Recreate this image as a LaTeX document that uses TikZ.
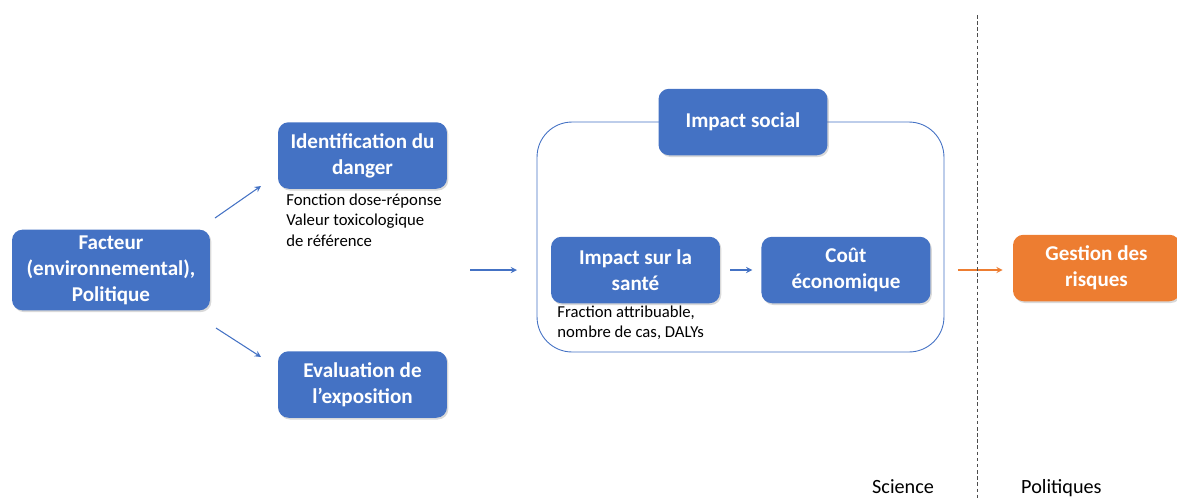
\documentclass[tikz,border=0pt]{standalone}
\usepackage{fontspec}
\setmainfont{Carlito}
\usetikzlibrary{arrows, shapes, shadows}
\definecolor{boxblue}{HTML}{4472C4}
\definecolor{boxorange}{HTML}{ED7D31}
\tikzstyle{arrow} = [->, >=stealth, boxblue, line width=0.6pt]
\tikzstyle{block} = [rectangle, rounded corners=6pt, fill=boxblue, text=white, font=\fontsize{12}{14.8}\selectfont\bfseries, align=center, minimum width=3.38cm, minimum height=1.33cm, drop shadow={shadow xshift=0.8pt, shadow yshift=-1pt, opacity=0.3}]
\tikzstyle{note} = [font=\fontsize{9.5}{11.4}\selectfont, align=left, inner sep=0]
\tikzstyle{inner} = [inner sep=0, minimum size=0]

\begin{document}
\begin{tikzpicture}[x=0.02cm, y=-0.02cm, node distance=4.21cm]
        \useasboundingbox (0,0) rectangle (1177,498);
        % cadre impact social
        \node [draw=boxblue, line width=0.5pt, rounded corners=0.7cm, minimum width=8.14cm, minimum height=4.6cm] (cadre) at (740.5,237) {};
        \node [block, minimum width=3.96cm, minimum height=1.52cm] (facteur) at (111,270) {Facteur\\(environnemental),\\Politique};
        \node [block] (danger) at (362.5,155.5) {Identification du\\danger};
        \node [note, anchor=north west] (dangerNote) at (286,194) {Fonction dose-réponse\\Valeur toxicologique\\de référence};
        \node [block] (exposition) at (362.5,384.5) {Evaluation de\\l’exposition};
        \node [block] (social) at (743,122) {Impact social};
        \node [block] (sante) at (635.5,270) {Impact sur la\\santé};
        \node [note, anchor=north west] (santeNote) at (557,306) {Fraction attribuable,\\nombre de cas, DALYs};
        \node [block, right of=sante] (cout) {Coût\\économique};
        \node [block, fill=boxorange, minimum width=3.34cm] (gestion) at (1096.5,268) {Gestion des\\risques};
        \node [anchor=base west, font=\fontsize{11.5}{13}\selectfont] (science) at (866,493) {Science};
        \node [anchor=base west, font=\fontsize{11.5}{13}\selectfont] (politiques) at (1015,493) {Politiques};

        \coordinate (iFacteurUp) at (215,218);
        \coordinate (iDanger) at (261,186);
        \coordinate (iFacteurDown) at (216,328);
        \coordinate (iExposition) at (261,357);
        \coordinate (iGauche) at (470,270);
        \coordinate (iCadre) at (517,270);
        \coordinate (sepTop) at (977,15);
        \coordinate (sepBottom) at (977,498);

        \path [arrow] (iFacteurUp) edge (iDanger);
        \path [arrow] (iFacteurDown) edge (iExposition);
        \path [arrow] (iGauche) edge (iCadre);
        \path [arrow, shorten <=5.5pt, shorten >=5pt] (sante) edge (cout);
        \draw [arrow, boxorange] ([xshift=15.4pt]cout.east) -- ([xshift=-5.7pt]cout.east -| gestion.west);
        \draw [dashed, dash pattern=on 2pt off 1.5pt, black!70, line width=0.5pt] (sepTop) -- (sepBottom);
    \end{tikzpicture}
\end{document}
